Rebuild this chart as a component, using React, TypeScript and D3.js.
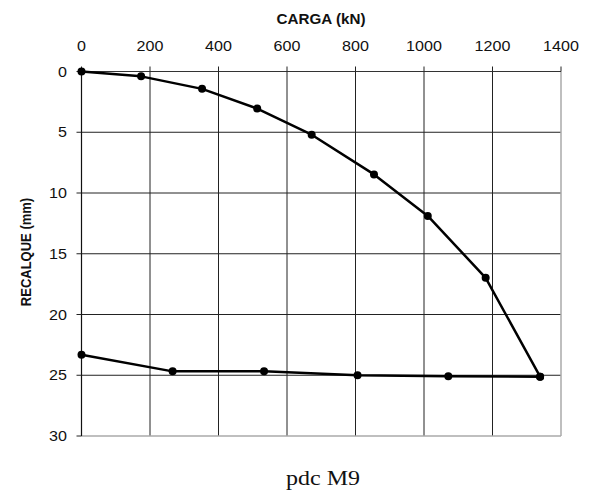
import React from 'react'
import { scaleLinear, line } from 'd3'

// prova de carga - carregamento
const cargaLoad = [0, 174, 352, 513, 672, 854, 1011, 1180, 1339]
const recalqueLoad = [0, 0.4, 1.43, 3.05, 5.2, 8.47, 11.89, 16.98, 25.12]

// descarregamento
const cargaUnload = [1339, 1071, 806, 533, 266, 0]
const recalqueUnload = [25.12, 25.09, 25.01, 24.68, 24.68, 23.31]

const xTicks = [0, 200, 400, 600, 800, 1000, 1200, 1400]
const yTicks = [0, 5, 10, 15, 20, 25, 30]

const width = 593
const height = 496
const margin = { top: 71.5, right: 32, bottom: 60, left: 81.5 }
const sans = 'Arial, "Liberation Sans", Helvetica, sans-serif'

export default function App() {
  const xScale = scaleLinear().domain([0, 1400]).range([margin.left, width - margin.right])
  const yScale = scaleLinear().domain([0, 30]).range([margin.top, height - margin.bottom])

  const loadPts = cargaLoad.map((c, i) => [c, recalqueLoad[i]] as [number, number])
  const unloadPts = cargaUnload.map((c, i) => [c, recalqueUnload[i]] as [number, number])

  const path = line<[number, number]>()
    .x(d => xScale(d[0]))
    .y(d => yScale(d[1]))

  const x0 = xScale(0)
  const x1 = xScale(1400)
  const y0 = yScale(0)
  const y1 = yScale(30)

  return (
    <svg width={width} height={height} style={{ position: 'absolute', left: 0, top: 0, background: '#fff' }}>
      {/* grid */}
      {xTicks.filter(t => t > 0 && t < 1400).map(t => (
        <line key={'gx' + t} x1={xScale(t)} x2={xScale(t)} y1={y0} y2={y1} stroke="#222" strokeWidth={1} />
      ))}
      {yTicks.filter(t => t > 0 && t < 30).map(t => (
        <line key={'gy' + t} x1={x0} x2={x1} y1={yScale(t)} y2={yScale(t)} stroke="#222" strokeWidth={1} />
      ))}
      <line x1={x1} x2={x1} y1={y0} y2={y1} stroke="#aaa" strokeWidth={1.5} />
      <line x1={x0} x2={x1} y1={y1} y2={y1} stroke="#aaa" strokeWidth={1.5} />

      {/* axes */}
      <line x1={x0} x2={x1} y1={y0} y2={y0} stroke="#333" strokeWidth={1.2} />
      <line x1={x0} x2={x0} y1={y0} y2={y1} stroke="#111" strokeWidth={1.2} />
      {xTicks.map(t => (
        <g key={'tx' + t}>
          <line x1={xScale(t)} x2={xScale(t)} y1={y0 - 5} y2={y0} stroke="#222" />
          <text
            transform={`translate(${xScale(t)},51) scale(1.15,1)`}
            textAnchor="middle"
            fontFamily={sans}
            fontSize={14}
            fill="#111"
          >
            {t}
          </text>
        </g>
      ))}
      {yTicks.map(t => (
        <g key={'ty' + t}>
          <line x1={x0 - 5} x2={x0} y1={yScale(t)} y2={yScale(t)} stroke="#222" />
          <text
            transform={`translate(67,${yScale(t) + 5}) scale(1.15,1)`}
            textAnchor="end"
            fontFamily={sans}
            fontSize={14}
            fill="#111"
          >
            {t}
          </text>
        </g>
      ))}

      <text
        transform="translate(321,24) scale(1.05,1)"
        textAnchor="middle"
        fontFamily={sans}
        fontWeight="bold"
        fontSize={14.5}
        fill="#111"
      >
        CARGA (kN)
      </text>
      <text
        transform="translate(31,252) scale(1.15,1) rotate(-90)"
        textAnchor="middle"
        fontFamily={sans}
        fontWeight="bold"
        fontSize={13}
        fill="#111"
      >
        RECALQUE (mm)
      </text>

      {/* curvas */}
      <path d={path(loadPts) || ''} fill="none" stroke="#000" strokeWidth={2.5} strokeLinejoin="round" />
      <path d={path(unloadPts) || ''} fill="none" stroke="#000" strokeWidth={2.5} strokeLinejoin="round" />
      {loadPts.concat(unloadPts).map((d, i) => (
        <circle key={'p' + i} cx={xScale(d[0])} cy={yScale(d[1])} r={4} fill="#000" />
      ))}

      <text
        transform="translate(323,485) scale(1.2,1)"
        textAnchor="middle"
        fontFamily='"Liberation Serif", "Times New Roman", serif'
        fontSize={20}
        fill="#111"
      >
        pdc M9
      </text>
    </svg>
  )
}
